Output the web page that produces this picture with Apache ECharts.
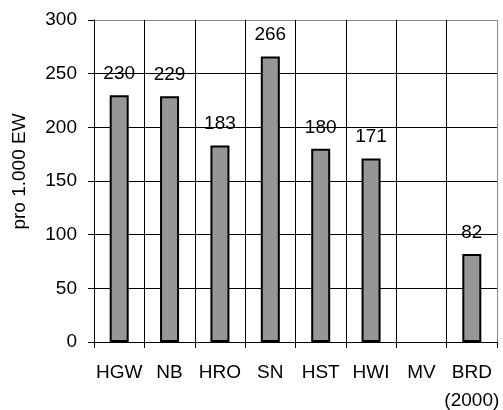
<!DOCTYPE html>
<html>
<head>
<meta charset="utf-8">
<script src="https://cdn.jsdelivr.net/npm/echarts@6/dist/echarts.min.js"></script>
<style>html,body{margin:0;padding:0;background:#fff}#c{width:503px;height:410px}</style>
</head>
<body>
<div id="c"></div>
<script>
const categories = ['HGW', 'NB', 'HRO', 'SN', 'HST', 'HWI', 'MV', 'BRD\n(2000)'];
const values = [230, 229, 183, 266, 180, 171, null, 82];
const yTicks = { min: 0, max: 300, interval: 50 };
const yAxisName = 'pro 1.000 EW';

const font = 'Liberation Sans, Arial, sans-serif';
const chart = echarts.init(document.getElementById('c'), null, { renderer: 'canvas' });
chart.setOption({
  animation: false,
  backgroundColor: '#fff',
  grid: { left: 94, right: 6, top: 20, bottom: 68, containLabel: false, outerBoundsMode: 'none' },
  xAxis: {
    type: 'category',
    data: categories,
    boundaryGap: true,
    axisLine: { show: true, lineStyle: { color: '#000', width: 1 } },
    axisTick: { show: true, length: 6, lineStyle: { color: '#000' } },
    axisLabel: { color: '#000', fontFamily: font, fontSize: 19, margin: 17, lineHeight: 28, interval: 0 },
    splitLine: { show: true, lineStyle: { color: ['#000','#000','#000','#000','#000','#000','#000','#000','#888'], width: 1 } }
  },
  yAxis: {
    type: 'value',
    min: yTicks.min, max: yTicks.max, interval: yTicks.interval,
    name: yAxisName,
    nameLocation: 'middle',
    nameGap: 65,
    nameTextStyle: { color: '#000', fontFamily: font, fontSize: 19, padding: [0, 0, 0, 19] },
    axisLine: { show: true, lineStyle: { color: '#000', width: 1 } },
    axisTick: { show: true, length: 6, lineStyle: { color: '#000' } },
    axisLabel: { color: '#000', fontFamily: font, fontSize: 19, margin: 17 },
    splitLine: { show: true, lineStyle: { color: ['#000','#000','#000','#000','#000','#000','#888'], width: 1 } }
  },
  series: [{
    type: 'bar',
    data: values,
    barWidth: 19,
    itemStyle: { color: '#969696', borderColor: '#000', borderWidth: 2 },
    label: { show: true, position: 'top', distance: 12, color: '#000', fontFamily: font, fontSize: 19 }
  }]
});
</script>
</body>
</html>
